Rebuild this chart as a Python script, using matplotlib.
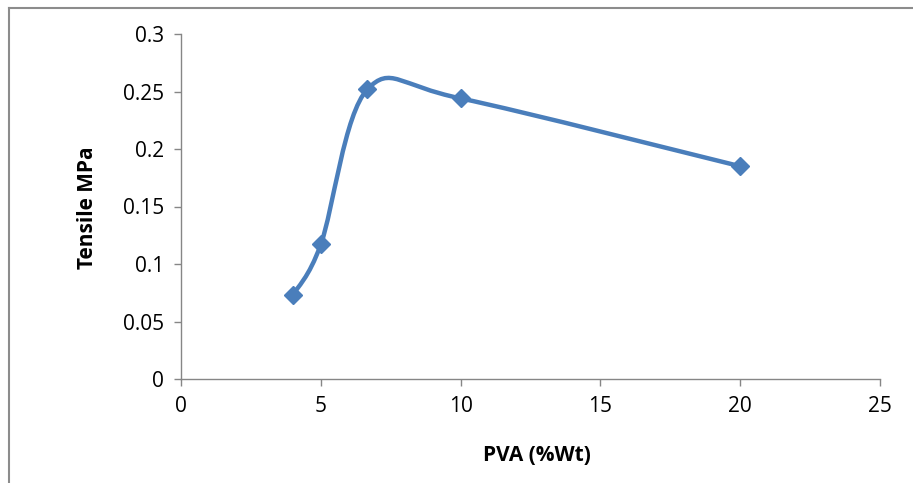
import matplotlib
matplotlib.use('Agg')
import matplotlib.pyplot as plt
from matplotlib.path import Path
from matplotlib.patches import PathPatch
from matplotlib.lines import Line2D

plt.rcParams['font.family'] = ['Open Sans', 'DejaVu Sans']

pva = [4, 5, 6.67, 10, 20]
tensile = [0.073, 0.117, 0.252, 0.244, 0.185]

xticks = [0, 5, 10, 15, 20, 25]
yticks = [0, 0.05, 0.1, 0.15, 0.2, 0.25, 0.3]
ytick_labels = ['0', '0.05', '0.1', '0.15', '0.2', '0.25', '0.3']

blue = '#4a7ebb'
grey = '#868686'


def smooth_path(x, y):
    # Excel-style smoothed line: cubic bezier through the points
    pts = list(zip(x, y))
    ext = [pts[0]] + pts + [pts[-1]]
    verts = [pts[0]]
    codes = [Path.MOVETO]
    for i in range(len(pts) - 1):
        p0, p1, p2, p3 = ext[i], ext[i + 1], ext[i + 2], ext[i + 3]
        c1 = (p1[0] + (p2[0] - p0[0]) / 6, p1[1] + (p2[1] - p0[1]) / 6)
        c2 = (p2[0] - (p3[0] - p1[0]) / 6, p2[1] - (p3[1] - p1[1]) / 6)
        verts += [c1, c2, p2]
        codes += [Path.CURVE4] * 3
    return Path(verts, codes)


fig = plt.figure(figsize=(9.13, 4.83), dpi=100)
ax = fig.add_axes([181 / 913, 1 - 379 / 483, 699 / 913, 345 / 483])

ax.add_patch(PathPatch(smooth_path(pva, tensile), fill=False,
                       edgecolor=blue, linewidth=3.2, capstyle='round',
                       joinstyle='round'))
ax.plot(pva, tensile, linestyle='none', marker='D', markersize=9,
        color=blue, markeredgecolor=blue)

ax.set_xlim(0, 25)
ax.set_ylim(0, 0.3)
ax.set_xticks(xticks)
ax.set_yticks(yticks)
ax.set_yticklabels(ytick_labels)

for s in ['top', 'right']:
    ax.spines[s].set_visible(False)
for s in ['left', 'bottom']:
    ax.spines[s].set_color(grey)
    ax.spines[s].set_linewidth(1.0)

ax.tick_params(direction='out', length=5, width=1.0, color=grey,
               labelsize=15, pad=7)

ax.set_xlabel('PVA (%Wt)', fontsize=15, fontweight='bold')
ax.set_ylabel('Tensile MPa', fontsize=15, fontweight='bold')
ax.xaxis.set_label_coords(0.509, -0.19)
ax.yaxis.set_label_coords(-0.119, 0.497)

# outer chart border (cropped at right and bottom)
fig.add_artist(Line2D([8.5 / 913, 8.5 / 913], [0, 1 - 7.5 / 483],
                      color='#8c8c8c', linewidth=1.5))
fig.add_artist(Line2D([8.5 / 913, 1], [1 - 7.5 / 483, 1 - 7.5 / 483],
                      color='#8c8c8c', linewidth=1.5))

fig.savefig('out.png', dpi=100)
